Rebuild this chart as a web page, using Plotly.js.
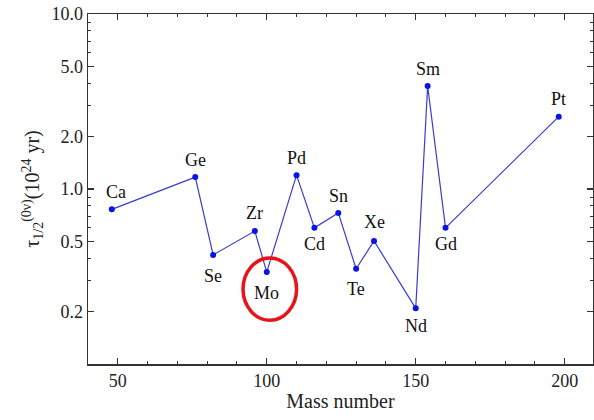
<!DOCTYPE html>
<html>
<head>
<meta charset="utf-8">
<script src="https://cdn.plot.ly/plotly-3.0.1.min.js"></script>
<style>
html,body{margin:0;padding:0;background:#fff;}
#chart{width:594px;height:420px;}
</style>
</head>
<body>
<div id="chart"></div>
<script>
// Data
const elements = ["Ca","Ge","Se","Zr","Mo","Pd","Cd","Sn","Te","Xe","Nd","Sm","Gd","Pt"];
const massNumbers = [48, 76, 82, 96, 100, 110, 116, 124, 130, 136, 150, 154, 160, 198];
const halfLives = [0.765, 1.17, 0.42, 0.575, 0.335, 1.20, 0.60, 0.73, 0.35, 0.505, 0.208, 3.88, 0.60, 2.59];

const yTickVals = [0.2, 0.5, 1, 2, 5, 10];
const yTickText = ["0.2", "0.5", "1.0", "2.0", "5.0", "10.0"];
const yMinorVals = [0.1,0.3,0.4,0.6,0.7,0.8,0.9,3,4,6,7,8,9];
const xTickVals = [50, 100, 150, 200];

// label placement (pixels, up is positive)
const labelYShift = [17, 17, -21, 18, -21, 17, -16, 17, -20, 19, -18, 17, -16, 18];
const labelXShift = [4, 0, 0, 0, 0, 0, 0, 0, 0, 0, 0, 0, 0, 0];

const serif = "'Liberation Serif', 'Times New Roman', serif";

const trace = {
  x: massNumbers,
  y: halfLives,
  type: "scatter",
  mode: "lines+markers",
  line: {color: "#3a3ad0", width: 1.2},
  marker: {color: "#0a14e6", size: 6},
  hoverinfo: "skip"
};

const annotations = elements.map((el, i) => ({
  x: massNumbers[i],
  y: Math.log10(halfLives[i]),
  xref: "x", yref: "y",
  text: el,
  showarrow: false,
  xshift: labelXShift[i],
  yshift: labelYShift[i],
  font: {family: serif, size: 18, color: "#111"}
}));

const layout = {
  width: 594, height: 420,
  margin: {l: 88, r: 1, t: 14, b: 56},
  paper_bgcolor: "#fff",
  plot_bgcolor: "#fff",
  showlegend: false,
  font: {family: serif, size: 18, color: "#222"},
  xaxis: {
    range: [40, 209.5],
    tickmode: "array",
    tickvals: xTickVals,
    ticks: "inside", ticklen: 6, tickwidth: 1.2, tickcolor: "#333",
    minor: {dtick: 10, tick0: 0, ticks: "inside", ticklen: 3, tickwidth: 1, tickcolor: "#333"},
    showline: true, linecolor: "#333", linewidth: 1.5, mirror: "allticks",
    showgrid: false, zeroline: false,
    tickfont: {family: serif, size: 18, color: "#222"},
    title: {text: "Mass number", font: {family: serif, size: 20, color: "#222"}, standoff: 4}
  },
  yaxis: {
    type: "log",
    range: [-1, 1],
    tickmode: "array",
    tickvals: yTickVals,
    ticktext: yTickText,
    ticks: "inside", ticklen: 6, tickwidth: 1.2, tickcolor: "#333",
    minor: {tickmode: "array", tickvals: yMinorVals, ticks: "inside", ticklen: 3, tickwidth: 1, tickcolor: "#333"},
    showline: true, linecolor: "#333", linewidth: 1.5, mirror: "allticks",
    showgrid: false, zeroline: false,
    tickfont: {family: serif, size: 18, color: "#222"},
    title: {text: "τ<sub>1/2</sub><sup>(0ν)</sup>(10<sup>24</sup> yr)", font: {family: serif, size: 20, color: "#222"}, standoff: 6}
  },
  annotations: annotations,
  shapes: [{
    type: "circle",
    xref: "paper", yref: "paper",
    x0: 0.307, x1: 0.413,
    y0: 0.125, y1: 0.303,
    line: {color: "#e8141b", width: 3.5}
  }]
};

Plotly.newPlot("chart", [trace], layout, {displayModeBar: false, staticPlot: true});
</script>
</body>
</html>
